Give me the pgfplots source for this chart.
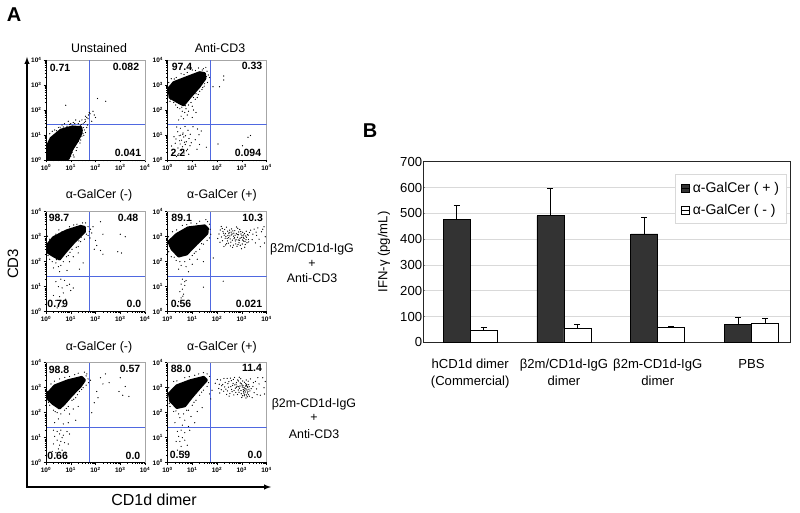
\documentclass[border=0pt]{standalone}
\usepackage{fontspec}
\setmainfont{Liberation Sans}
\usepackage{pgfplots}
\pgfplotsset{compat=1.18}
\definecolor{quad}{HTML}{4F68E0}
\definecolor{darkbar}{HTML}{333333}
\newcommand\sz[1]{\fontsize{#1}{#1}\selectfont}
\newcommand\dec[1]{\textbf{10\textsuperscript{#1}}}
\newcommand\T[4][]{\node[inner sep=0pt,#1] at ({#2pt},{513pt-#3pt}) {#4};}
\newcommand\B[3]{\T[font=\sz{10.5}\bfseries]{#1}{#2}{#3}}
\pgfplotsset{flow/.style={
  scale only axis,width=99pt,height=100pt,xmin=0,xmax=4,ymin=0,ymax=4,
  axis line style={gray!70,line width=.7pt},
  xtick={0,1,2,3,4},ytick={0,1,2,3,4},
  xticklabels={\dec{0},\dec{1},\dec{2},\dec{3},\dec{4}},
  yticklabels={\dec{0},\dec{1},\dec{2},\dec{3},\dec{4}},
  minor xtick={.3,.48,.6,.7,.78,.85,.9,.95,1.3,1.48,1.6,1.7,1.78,1.85,1.9,1.95,2.3,2.48,2.6,2.7,2.78,2.85,2.9,2.95,3.3,3.48,3.6,3.7,3.78,3.85,3.9,3.95},
  minor ytick={.3,.48,.6,.7,.78,.85,.9,.95,1.3,1.48,1.6,1.7,1.78,1.85,1.9,1.95,2.3,2.48,2.6,2.7,2.78,2.85,2.9,2.95,3.3,3.48,3.6,3.7,3.78,3.85,3.9,3.95},
  tick align=outside,xtick pos=bottom,ytick pos=left,
  major tick length=2.5pt,minor tick length=1.3pt,
  tick style={black,line width=.5pt},
  tick label style={font=\sz{6.5}},
  xticklabel style={yshift=1.5pt},yticklabel style={xshift=1.5pt},
  clip=true}}
\newcommand\flow[4]{%
 \begin{axis}[flow,at={(#1pt,{513pt-#2pt})},anchor=south west]
  \addplot[fill=black,draw=black,line width=2.6pt,line join=round] coordinates {#3} --cycle;
  \addplot[only marks,mark=*,mark size=.33pt,black] coordinates {#4};
  \addplot[quad,line width=.85pt] coordinates {(1.75,0)(1.75,4)};
  \addplot[quad,line width=.85pt] coordinates {(0,1.41)(4,1.41)};
 \end{axis}
 \draw[black,line width=.8pt] (#1pt,{513pt-#2pt+100pt})--(#1pt,{513pt-#2pt})--({#1pt+99pt},{513pt-#2pt});
}
\begin{document}
\begin{tikzpicture}[x=1pt,y=1pt]
\useasboundingbox (0pt,0pt) rectangle (800pt,513pt);
% --- panel A
\flow{46}{160}{(0.06,0.05)(0.08,.62)(.2,.87)(.6,1.2)(1.07,1.33)(1.42,1.3)(1.43,1.08)(1.26,.75)(1.05,.42)(.9,.05)}
{(1.5,1.45)(1.55,1.5)(1.6,1.55)(1.65,1.7)(1.7,1.65)(1.72,1.8)(1.78,1.85)(1.75,1.9)(1.6,1.75)(1.45,1.6)(1.35,1.55)(1.2,1.6)(1.1,1.5)(1.0,1.45)(.9,1.55)(.75,1.45)(.65,1.4)(.5,1.3)(.35,1.2)(.25,1.15)(.15,1.05)(1.55,1.2)(1.5,1.05)(1.45,.95)(1.35,.9)(1.3,.75)(1.2,.7)(1.15,.55)(1.1,.45)(1.05,.3)(1.0,.15)(1.1,.2)(1.25,.5)(1.4,.8)(1.6,1.1)(1.65,1.3)(1.9,1.95)(1.95,1.8)(2.08,2.46)(2.41,2.35)(.8,2.19)(1.68,1.4)(1.85,1.55)(2.0,1.7)(1.58,1.62)(1.3,1.45)(.85,1.35)(.7,1.32)(1.52,1.3)(1.42,1.42)(1.18,.9)(1.02,.6)(.42,1.17)(.57,1.31)(.96,1.42)(1.16,1.46)(1.38,1.37)(1.53,.98)(1.37,.68)(1.22,.38)(1.13,.12)(1.08,.62)(1.47,1.18)}
\flow{167.5}{160}{(.05,2.86)(.25,3.1)(.77,3.3)(1.3,3.5)(1.5,3.46)(1.52,3.26)(1.28,2.93)(.9,2.5)(.65,2.2)(.45,2.3)(.1,2.5)}
{(1.84,2.93)(2.1,2.93)(2.27,3.36)(2.27,3.2)(3.25,.91)(3.35,.98)(2.04,.64)(1.57,.51)(3.03,.57)(1.6,3.55)(1.65,3.4)(1.7,3.3)(1.62,3.1)(1.5,3.05)(1.42,2.9)(1.3,2.75)(1.15,2.65)(1.05,2.5)(.95,2.3)(.85,2.2)(.75,2.05)(.7,1.9)(.6,1.95)(.5,2.05)(.4,2.1)(.25,2.3)(.1,2.35)(.05,2.7)(.05,3.1)(.15,3.25)(.35,3.3)(.55,3.45)(.8,3.5)(1.0,3.6)(1.25,3.68)(1.45,3.65)(1.55,3.7)(.55,1.75)(.65,1.65)(.8,1.8)(.45,1.6)(1.0,1.7)(1.15,1.9)(.37,1.32)(.41,1.13)(.52,1.27)(.63,1.08)(.71,1.34)(.83,1.19)(.92,1.03)(1.03,1.33)(1.21,1.24)(1.27,1.01)(.26,.93)(.34,.84)(.47,.97)(.57,.79)(.66,.92)(.76,.73)(.87,.86)(.96,.69)(1.12,.81)(.51,.64)(.61,.53)(.72,.62)(.81,.43)(.91,.57)(.42,.48)(.31,.67)(.56,.38)(.67,.28)(.77,.37)(.86,.23)(.46,.26)(.36,.14)(1.19,.43)(1.29,.62)(.16,.56)(.21,.28)(.73,.97)(.62,1.03)(.53,.99)(.49,.77)(.69,.71)(1.36,1.16)(1.48,2.95)(1.2,2.5)(1.0,2.15)(.85,1.95)(1.05,2.0)(1.12,2.43)(1.24,2.62)(1.39,2.82)(.72,2.17)(.58,2.11)(.33,2.2)(.12,2.44)(.07,2.95)(.27,3.24)(.67,3.42)(1.13,3.58)(1.4,3.6)(1.58,3.34)}
\flow{46}{311.7}{(.05,2.67)(.3,2.97)(.83,3.24)(1.4,3.42)(1.56,3.38)(1.56,3.2)(1.15,2.8)(.77,2.37)(.55,2.1)(.32,2.22)(.06,2.38)}
{(1.7,3.4)(1.75,3.2)(1.8,3.3)(1.85,3.15)(1.7,3.05)(1.78,2.95)(1.9,3.4)(2.2,3.6)(2.3,3.1)(2.0,2.85)(2.05,2.65)(1.95,2.5)(2.2,2.45)(2.3,2.3)(3.0,3.1)(2.9,2.4)(3.05,2.35)(3.2,3.0)(1.55,2.9)(1.4,2.8)(1.3,2.6)(1.6,3.55)(1.25,3.5)(.95,3.4)(.65,3.2)(.4,3.1)(.15,2.9)(1.05,2.5)(.9,2.25)(.7,2.0)(.6,1.85)(.5,1.8)(.4,1.95)(.25,2.0)(.15,2.1)(.95,2.0)(1.1,2.2)(1.3,2.35)(1.5,1.95)(.3,1.75)(.55,1.6)(.85,1.65)(1.35,1.7)(.6,1.3)(.75,1.25)(.4,1.2)(.85,1.05)(.5,1.0)(.65,.95)(.95,1.1)(1.0,.85)(.7,.75)(.55,.6)(.4,.45)(.5,.3)(.6,.45)(.8,.5)(.3,.65)(.65,.2)(.45,.15)(1.1,.95)(1.22,2.58)(1.42,2.98)(.83,2.2)(.42,2.08)(.08,2.25)(.06,3.02)(.52,3.27)(1.12,3.47)(1.48,3.55)(1.63,3.1)(1.33,2.83)(.97,2.38)}
\flow{167.5}{311.7}{(.05,2.8)(.37,3.1)(.83,3.36)(1.5,3.44)(1.62,3.33)(1.6,3.13)(1.16,2.7)(.77,2.3)(.45,2.22)(.18,2.5)}
{(1.7,3.5)(1.72,3.3)(1.75,3.1)(1.7,2.95)(1.6,2.85)(1.45,2.7)(1.3,2.5)(1.15,2.4)(1.0,2.25)(.9,2.1)(.7,2.0)(.5,2.0)(.35,2.05)(.15,2.2)(.05,2.4)(.04,3.0)(.2,3.2)(.6,3.45)(.95,3.55)(1.3,3.62)(1.55,3.68)(1.62,3.6)(.55,1.85)(.75,1.8)(1.0,1.9)(1.2,2.1)(1.45,2.0)(.45,1.7)(.85,1.6)(1.45,.98)(.6,1.3)(.75,1.25)(.55,1.1)(.7,1.05)(.6,.9)(.5,.8)(.65,.7)(.55,.55)(.45,.4)(.4,.25)(.7,1.2)(.62,.62)(1.38,2.72)(1.08,2.34)(.27,2.18)(.09,2.62)(.37,3.27)(.78,3.48)(1.18,3.52)
(2.13,3.27)(2.41,2.93)(2.87,3.08)(3.02,2.71)(2.26,3.14)(2.59,3.31)(3.19,2.98)(2.74,2.83)(2.35,2.67)(2.96,3.21)(2.18,2.99)(2.67,3.02)(3.11,3.13)(2.49,3.17)(2.81,2.62)(3.27,2.89)(2.31,3.29)(2.56,2.78)(2.93,2.94)(2.08,3.11)(3.07,2.83)(2.44,3.04)(2.72,3.24)(3.23,3.09)(2.22,2.84)(2.63,2.57)(2.89,2.76)(3.14,2.69)(2.38,3.38)(2.78,3.13)(3.01,3.04)(2.53,2.91)(2.17,3.41)(2.99,2.52)(2.69,2.92)(3.31,3.17)(2.28,2.61)(2.84,3.34)(3.09,2.93)(2.46,2.74)(2.61,3.11)(2.91,2.86)(3.18,3.22)(2.36,3.01)(2.76,2.71)(3.04,3.18)(2.51,3.26)(2.24,3.21)(2.83,2.98)(3.13,2.81)(2.66,2.66)(2.97,3.11)(2.42,2.83)(3.21,2.76)(2.58,3.07)(2.79,3.39)(2.33,2.94)(3.06,2.98)(2.86,2.87)(2.54,2.63)(2.12,2.78)(2.73,3.06)(3.16,3.03)(2.48,3.12)(2.94,2.66)(2.29,3.06)(3.26,3.06)(2.62,2.86)(2.88,3.19)(2.39,2.72)(3.03,2.87)(2.71,2.96)(2.57,3.18)(3.12,2.58)(2.82,3.09)(2.47,2.96)(3.28,2.79)(2.21,3.33)(2.92,3.29)(2.64,3.23)(2.03,2.93)(2.34,3.12)(2.52,3.03)(2.77,2.88)(2.98,2.97)(3.08,3.07)(3.17,2.88)(2.68,3.14)(2.43,3.22)(2.85,2.69)
(3.5,3.3)(3.6,3.05)(3.7,2.9)(3.8,3.2)(3.9,3.4)(3.95,3.0)(3.55,2.75)(3.75,2.6)(3.65,3.35)(3.92,2.75)(3.45,3.1)(3.85,3.3)(2.25,1.22)(1.85,2.15)(3.42,2.88)(3.58,3.18)(3.36,3.26)}
\flow{46}{462.7}{(.07,2.77)(.35,3.08)(.87,3.28)(1.44,3.42)(1.56,3.3)(1.38,3.04)(1.05,2.71)(.74,2.36)(.55,2.18)(.28,2.36)(.1,2.53)}
{(1.65,3.55)(1.7,3.35)(1.72,3.2)(1.8,3.3)(1.62,3.1)(1.5,3.0)(1.35,2.85)(1.2,2.6)(1.05,2.5)(.9,2.25)(.75,2.1)(.6,1.95)(.45,2.0)(.3,2.1)(.15,2.3)(.05,2.85)(.2,3.15)(.55,3.35)(.95,3.45)(1.3,3.58)(1.55,3.62)(2.2,3.4)(2.4,3.55)(2.3,3.15)(2.05,2.85)(2.1,2.6)(1.95,2.4)(2.95,2.85)(3.1,2.7)(3.35,2.65)(3.0,3.4)(3.2,3.05)(2.55,3.2)(1.85,2.0)(.95,1.95)(1.1,2.15)(1.3,2.25)(.5,1.75)(.35,1.6)(.7,1.55)(.9,1.6)(1.2,1.7)(.3,1.3)(.45,1.25)(.6,1.3)(.55,1.15)(.35,1.05)(.7,1.1)(.85,1.25)(.45,.9)(.6,.85)(.3,.75)(.75,.8)(.5,.55)(.65,.5)(.9,.75)(.4,.4)(.8,.35)(.25,.45)(.95,1.15)(.55,.7)(.65,1.0)(1.12,2.54)(1.27,2.72)(1.44,2.93)(.82,2.17)(.37,2.04)(.1,2.42)(.34,3.26)(.76,3.41)(1.16,3.52)(1.62,3.47)}
\flow{167.5}{462.7}{(.07,2.77)(.37,3.08)(.9,3.28)(1.46,3.42)(1.58,3.3)(1.28,2.97)(.96,2.6)(.7,2.27)(.38,2.2)(.12,2.47)}
{(1.7,3.45)(1.6,3.05)(1.45,2.9)(1.3,2.7)(1.15,2.5)(1.0,2.3)(.85,2.1)(.65,1.95)(.45,1.95)(.25,2.05)(.1,2.25)(.05,3.0)(.25,3.25)(.7,3.4)(1.1,3.5)(1.45,3.6)(1.6,3.55)(.5,1.8)(.7,1.7)(.95,1.85)(1.2,2.05)(1.4,2.2)(.3,1.6)(.6,1.5)(.85,1.45)(1.1,1.6)(.4,1.25)(.55,1.3)(.7,1.2)(.9,1.3)(.45,1.05)(.6,1.0)(.35,.85)(.5,.85)(.7,.9)(.55,.65)(.8,.7)(.4,.5)(.65,.4)(1.75,2.55)(1.7,2.75)(1.8,2.9)(1.38,2.82)(1.07,2.42)(.78,2.1)(.34,2.07)(.07,2.38)(.38,3.27)(.88,3.44)(1.26,3.55)(1.66,3.2)
(1.93,3.18)(2.07,2.97)(2.14,3.31)(2.19,3.08)(2.27,2.86)(2.33,3.21)(2.41,3.37)(2.46,3.02)(2.52,2.77)(2.58,3.28)(2.63,3.09)(2.69,2.89)(2.71,3.41)(2.77,3.14)(2.83,2.73)(2.87,3.27)(2.91,2.98)(2.96,3.36)(3.01,3.11)(3.03,2.68)(3.07,2.86)(3.11,3.22)(3.13,2.97)(3.17,2.59)(3.19,3.08)(3.23,2.79)(3.26,3.26)(3.29,2.94)(3.31,2.66)(2.01,3.33)(2.11,2.79)(2.23,3.13)(2.36,2.94)(2.44,3.16)(2.49,2.66)(2.56,3.04)(2.61,2.84)(2.66,3.33)(2.74,2.98)(2.79,3.21)(2.86,2.91)(2.93,3.07)(2.98,2.76)(3.04,3.27)(3.09,3.01)(3.14,2.83)(3.16,3.16)(3.21,2.91)(3.24,3.02)(3.27,2.72)(2.17,2.92)(2.31,3.03)(2.39,2.73)(2.54,3.38)(2.68,2.71)(2.81,3.06)(2.89,2.82)(2.94,3.19)(3.06,2.93)(3.12,2.74)(3.18,3.31)(3.22,2.64)(3.28,3.12)(3.33,2.87)(2.09,3.14)(2.28,3.37)(2.42,2.87)(2.59,2.93)(2.72,3.11)(2.84,3.31)(2.97,2.89)(3.02,3.03)(3.08,2.79)(3.15,3.07)(3.2,3.13)(3.25,2.84)(3.3,3.04)(2.48,3.24)(2.65,3.17)(2.76,2.81)(3.0,2.61)(3.1,2.68)(3.19,2.71)(2.9,3.42)(3.12,2.9)(3.17,2.95)(3.22,3.05)(3.05,3.08)(2.98,3.16)(2.88,3.04)(2.78,3.02)
(3.35,3.35)(3.45,3.05)(3.5,2.8)(3.55,3.25)(3.6,2.95)(3.7,3.15)(3.75,2.7)(3.85,3.4)(3.9,3.0)(3.95,3.25)(3.42,2.6)(3.65,3.4)(3.92,2.75)(3.38,2.96)(3.47,3.2)(3.62,2.72)}
% big axes
\draw[-latex,line width=1.4pt] (27pt,{513pt-487pt})--(27pt,{513pt-57pt});
\draw[-latex,line width=1.4pt] (26.3pt,{513pt-487pt})--(271pt,{513pt-487pt});
\T[font=\sz{20}\bfseries]{14}{15}{A}
\T[font=\sz{20}\bfseries]{370}{131}{B}
\T[font=\sz{15},rotate=90]{13}{264}{CD3}
\T[font=\sz{16}]{154}{500}{CD1d dimer}
\T[font=\sz{12.4}]{99}{48}{Unstained}
\T[font=\sz{12.4}]{220}{48}{Anti-CD3}
\T[font=\sz{12.4}]{99}{195}{α-GalCer (-)}
\T[font=\sz{12.4}]{222}{195}{α-GalCer (+)}
\T[font=\sz{12.4}]{99}{347}{α-GalCer (-)}
\T[font=\sz{12.4}]{222}{347}{α-GalCer (+)}
\B{60}{67.5}{0.71}\B{126}{67}{0.082}\B{128}{152.7}{0.041}
\B{182}{66.7}{97.4}\B{252}{66}{0.33}\B{178}{152.7}{2.2}\B{248}{152.7}{0.094}
\B{59}{218}{98.7}\B{128}{218}{0.48}\B{57.7}{304.3}{0.79}\B{134}{304.3}{0.0}
\B{181.7}{218}{89.1}\B{252.7}{217.7}{10.3}\B{181}{304.3}{0.56}\B{249}{304.3}{0.021}
\B{59}{370}{98.8}\B{130}{369}{0.57}\B{57.7}{456}{0.66}\B{133}{456}{0.0}
\B{181}{368.7}{88.0}\B{252}{368}{11.4}\B{180}{455}{0.59}\B{255}{455}{0.0}
\T[font=\sz{12.4}]{312}{249}{β2m/CD1d-IgG}
\T[font=\sz{12.4}]{312}{263.7}{+}
\T[font=\sz{12.4}]{312}{278}{Anti-CD3}
\T[font=\sz{12.4}]{314}{404}{β2m-CD1d-IgG}
\T[font=\sz{12.4}]{314}{418}{+}
\T[font=\sz{12.4}]{314}{434}{Anti-CD3}
% --- panel B
\begin{axis}[
  at={(423.3pt,170.7pt)},anchor=south west,scale only axis,width=366.7pt,height=180.6pt,
  ybar,bar width=27pt,
  /pgf/number format/assume math mode=true,
  xmin=-.5,xmax=3.41,ymin=0,ymax=700,
  xtick={0,1,2,3},
  xticklabels={hCD1d dimer\\(Commercial),β2m/CD1d-IgG\\dimer,β2m-CD1d-IgG\\dimer,PBS\\\mbox{}},
  xticklabel style={align=center,font=\fontsize{13.1}{16.7}\selectfont,inner sep=0pt,yshift=-15pt},
  major x tick style={draw=none},
  extra x ticks={-.5,.5,1.5,2.5,3.41},extra x tick labels={},
  extra x tick style={tick style={black!60,line width=.5pt},major tick length=4pt,tick align=outside,grid=none},
  ytick={0,100,...,700},
  yticklabel style={font=\sz{13.1},inner sep=1pt},
  ymajorgrids,grid style={gray!30,line width=.7pt},
  xtick pos=bottom,ytick pos=left,
  ytick style={gray,line width=.5pt},major tick length=2pt,
  axis line style={black!85,line width=.9pt},
  ylabel={IFN-γ (pg/mL)},
  ylabel style={font=\sz{13.1},at={(axis description cs:-.107,.5)},anchor=center,inner sep=0pt},
  legend image code/.code={\draw[#1,bar shift=0pt,line width=.8pt] (0pt,-4pt) rectangle (7.5pt,4pt);\path (0pt,0pt)--(9pt,0pt);},
  legend style={at={(.687,.93)},anchor=north west,draw=gray!30,line width=.6pt,font=\sz{14},
    inner xsep=5.5pt,inner ysep=5.5pt,row sep=6.5pt,legend cell align=left,fill=white},
]
\addplot[bar shift=-13.5pt,fill=darkbar,draw=black,line width=.8pt,
  error bars/.cd,y dir=plus,y explicit,error bar style={black,line width=1pt},
  error mark options={rotate=90,mark size=3pt,line width=.8pt,black}]
  coordinates {(0,475) +- (0,56) (1,490) +- (0,107) (2,420) +- (0,64) (3,70) +- (0,27)};
\addlegendentry{α-GalCer ( + )}
\addplot[bar shift=13.5pt,fill=white,draw=black,line width=.8pt,
  error bars/.cd,y dir=plus,y explicit,error bar style={black,line width=1pt},
  error mark options={rotate=90,mark size=3pt,line width=.8pt,black}]
  coordinates {(0,46) +- (0,13) (1,54) +- (0,14) (2,59) +- (0,4) (3,74) +- (0,19)};
\addlegendentry{α-GalCer ( - )}
\end{axis}
\end{tikzpicture}
\end{document}
